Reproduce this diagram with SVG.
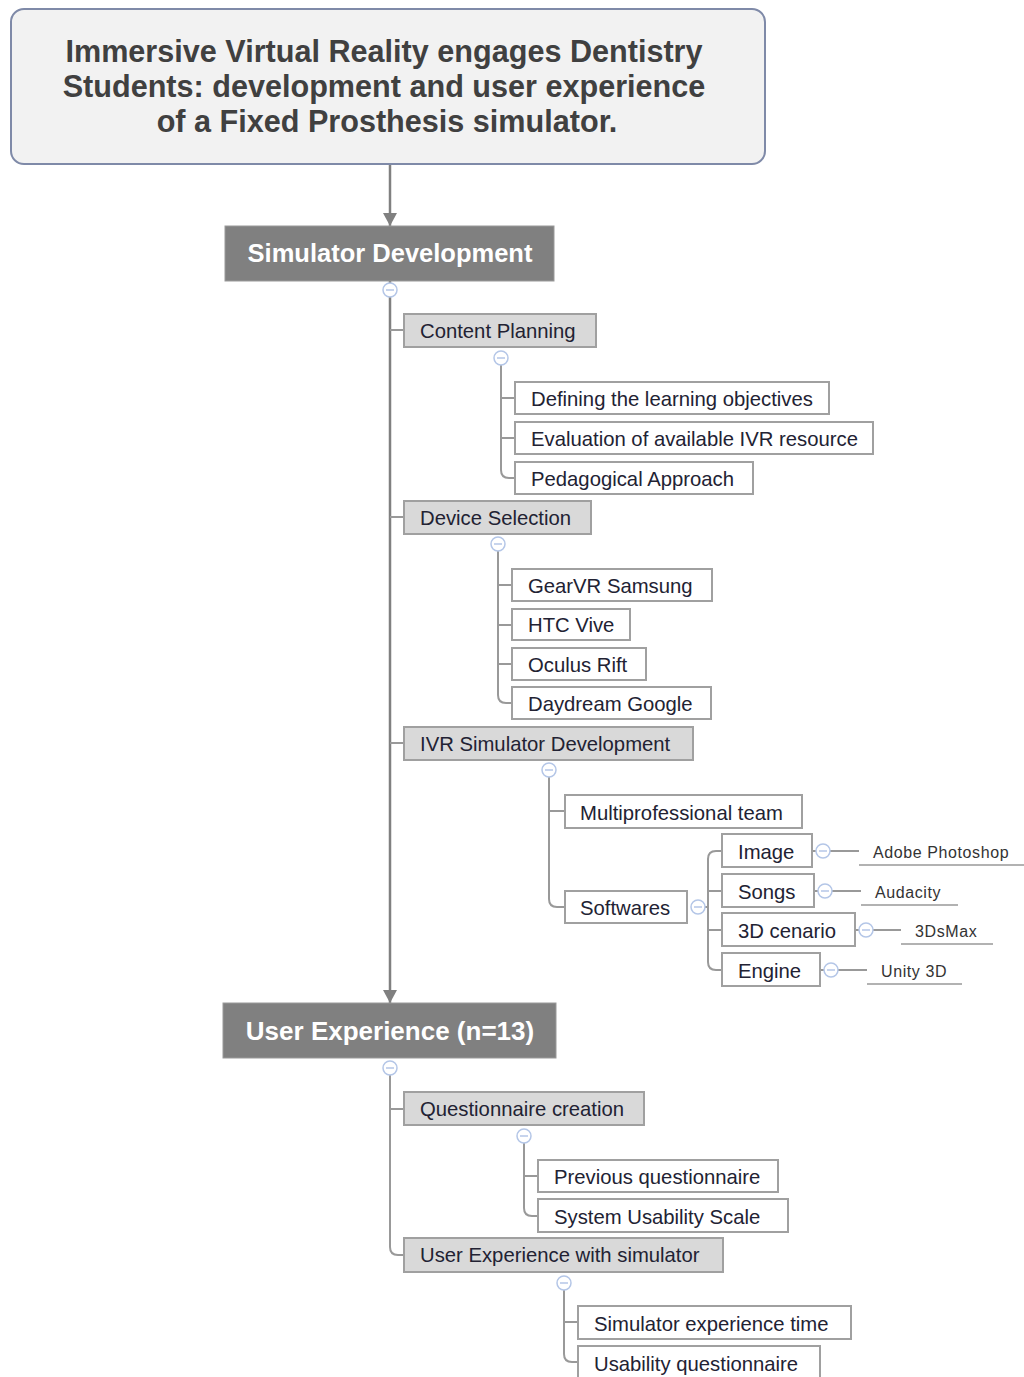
<svg xmlns="http://www.w3.org/2000/svg" width="1024" height="1377" viewBox="0 0 1024 1377">
<defs>
<style>
.title{font-family:"Liberation Sans",Arial,sans-serif;font-weight:bold;font-size:30.6px;fill:#404040;text-anchor:middle}
.main{fill:#808080;stroke:#9a9a9a;stroke-width:1}
.mainT{font-family:"Liberation Sans",Arial,sans-serif;font-weight:bold;font-size:25.5px;fill:#ffffff;text-anchor:middle}
.g2{fill:#d9d9d9;stroke:#a0a0a0;stroke-width:2}
.lf{fill:#ffffff;stroke:#a0a0a0;stroke-width:2}
.t{font-family:"Liberation Sans",Arial,sans-serif;font-size:20.3px;fill:#222233}
.s{font-family:"Liberation Sans",Arial,sans-serif;font-size:16px;fill:#333333;letter-spacing:0.6px}
.ln{fill:none;stroke:#999999;stroke-width:2}
.trunk{fill:none;stroke:#808080;stroke-width:2.5}
.ul{stroke:#999999;stroke-width:1.5}
.cc{fill:#ffffff;stroke:#b4c6e7;stroke-width:1.5}
.cm{stroke:#b4c6e7;stroke-width:1.5}
</style>
</defs>

<g id="connectors">
<line class="trunk" x1="390" y1="164" x2="390" y2="226"/>
<path d="M383,213 L397,213 L390,226 Z" fill="#808080"/>
<line class="trunk" x1="390" y1="281" x2="390" y2="1003"/>
<path d="M383,990 L397,990 L390,1003 Z" fill="#808080"/>
<line class="ln" x1="390" y1="330" x2="404" y2="330"/>
<line class="ln" x1="390" y1="517" x2="404" y2="517"/>
<line class="ln" x1="390" y1="743" x2="404" y2="743"/>
<path class="ln" d="M501,365 V470 Q501,478 509,478 H515 M501,398 H515 M501,438 H515"/>
<path class="ln" d="M498,551 V695 Q498,703 506,703 H512 M498,585 H512 M498,625 H512 M498,664 H512"/>
<path class="ln" d="M549,777 V899 Q549,907 557,907 H565 M549,811 H565"/>
<path class="ln" d="M705,907 H708 M722,851 H716 Q708,851 708,859 V962 Q708,970 716,970 H722 M708,891 H722 M708,930 H722"/>
<line class="ln" x1="812" y1="851" x2="816" y2="851"/>
<line class="ln" x1="830" y1="851" x2="859" y2="851"/>
<line class="ln" x1="814" y1="891" x2="818" y2="891"/>
<line class="ln" x1="832" y1="891" x2="861" y2="891"/>
<line class="ln" x1="855" y1="930" x2="859" y2="930"/>
<line class="ln" x1="873" y1="930" x2="901" y2="930"/>
<line class="ln" x1="820" y1="970" x2="824" y2="970"/>
<line class="ln" x1="838" y1="970" x2="867" y2="970"/>
<path class="ln" d="M390,1075 V1247 Q390,1255 398,1255 H404 M390,1109 H404"/>
<path class="ln" d="M524,1143 V1208 Q524,1216 532,1216 H538 M524,1176 H538"/>
<path class="ln" d="M564,1290 V1354 Q564,1362 572,1362 H578 M564,1322 H578"/>
</g>

<g id="collapse-icons">
<circle class="cc" cx="390" cy="290" r="7"/><line class="cm" x1="386" y1="290" x2="394" y2="290"/>
<circle class="cc" cx="501" cy="358" r="7"/><line class="cm" x1="497" y1="358" x2="505" y2="358"/>
<circle class="cc" cx="498" cy="544" r="7"/><line class="cm" x1="494" y1="544" x2="502" y2="544"/>
<circle class="cc" cx="549" cy="770" r="7"/><line class="cm" x1="545" y1="770" x2="553" y2="770"/>
<circle class="cc" cx="698" cy="907" r="7"/><line class="cm" x1="694" y1="907" x2="702" y2="907"/>
<circle class="cc" cx="823" cy="851" r="7"/><line class="cm" x1="819" y1="851" x2="827" y2="851"/>
<circle class="cc" cx="825" cy="891" r="7"/><line class="cm" x1="821" y1="891" x2="829" y2="891"/>
<circle class="cc" cx="866" cy="930" r="7"/><line class="cm" x1="862" y1="930" x2="870" y2="930"/>
<circle class="cc" cx="831" cy="970" r="7"/><line class="cm" x1="827" y1="970" x2="835" y2="970"/>
<circle class="cc" cx="390" cy="1068" r="7"/><line class="cm" x1="386" y1="1068" x2="394" y2="1068"/>
<circle class="cc" cx="524" cy="1136" r="7"/><line class="cm" x1="520" y1="1136" x2="528" y2="1136"/>
<circle class="cc" cx="564" cy="1283" r="7"/><line class="cm" x1="560" y1="1283" x2="568" y2="1283"/>
</g>

<g id="title">
<rect x="11" y="9" width="754" height="155" rx="13" fill="#f2f2f2" stroke="#7f8aa8" stroke-width="2"/>
<text class="title" x="384" y="62">Immersive Virtual Reality engages Dentistry</text>
<text class="title" x="384" y="97">Students: development and user experience</text>
<text class="title" x="387" y="132">of a Fixed Prosthesis simulator.</text>
</g>

<g id="simulator-development">
<rect class="main" x="225" y="226" width="329" height="55"/>
<text class="mainT" x="390" y="262">Simulator Development</text>
</g>

<g id="content-planning"><rect class="g2" x="404" y="314" width="192" height="33"/><text class="t" x="420" y="338">Content Planning</text></g>
<g id="defining"><rect class="lf" x="515" y="382" width="314" height="32"/><text class="t" x="531" y="406">Defining the learning objectives</text></g>
<g id="evaluation"><rect class="lf" x="515" y="422" width="358" height="32"/><text class="t" x="531" y="446">Evaluation of available IVR resource</text></g>
<g id="pedagogical"><rect class="lf" x="515" y="462" width="238" height="32"/><text class="t" x="531" y="486">Pedagogical Approach</text></g>

<g id="device-selection"><rect class="g2" x="404" y="501" width="187" height="33"/><text class="t" x="420" y="525">Device Selection</text></g>
<g id="gearvr"><rect class="lf" x="512" y="569" width="200" height="32"/><text class="t" x="528" y="593">GearVR Samsung</text></g>
<g id="htc"><rect class="lf" x="512" y="609" width="118" height="31"/><text class="t" x="528" y="632">HTC Vive</text></g>
<g id="oculus"><rect class="lf" x="512" y="648" width="134" height="32"/><text class="t" x="528" y="672">Oculus Rift</text></g>
<g id="daydream"><rect class="lf" x="512" y="687" width="199" height="32"/><text class="t" x="528" y="711">Daydream Google</text></g>

<g id="ivr-dev"><rect class="g2" x="404" y="727" width="289" height="33"/><text class="t" x="420" y="751">IVR Simulator Development</text></g>
<g id="multiprofessional"><rect class="lf" x="565" y="795" width="237" height="33"/><text class="t" x="580" y="820">Multiprofessional team</text></g>
<g id="softwares"><rect class="lf" x="565" y="891" width="122" height="32"/><text class="t" x="580" y="915">Softwares</text></g>
<g id="image"><rect class="lf" x="722" y="834" width="90" height="33"/><text class="t" x="738" y="859">Image</text></g>
<g id="songs"><rect class="lf" x="722" y="874" width="92" height="33"/><text class="t" x="738" y="899">Songs</text></g>
<g id="cenario"><rect class="lf" x="722" y="913" width="133" height="33"/><text class="t" x="738" y="938">3D cenario</text></g>
<g id="engine"><rect class="lf" x="722" y="953" width="98" height="33"/><text class="t" x="738" y="978">Engine</text></g>

<g id="photoshop"><text class="s" x="873" y="858">Adobe Photoshop</text><line class="ul" x1="859" y1="865" x2="1024" y2="865"/></g>
<g id="audacity"><text class="s" x="875" y="898">Audacity</text><line class="ul" x1="861" y1="905" x2="958" y2="905"/></g>
<g id="3dsmax"><text class="s" x="915" y="937">3DsMax</text><line class="ul" x1="901" y1="944" x2="993" y2="944"/></g>
<g id="unity"><text class="s" x="881" y="977">Unity 3D</text><line class="ul" x1="867" y1="984" x2="962" y2="984"/></g>

<g id="user-experience">
<rect class="main" x="223" y="1003" width="333" height="55"/>
<text class="mainT" x="390" y="1040" style="font-size:26px">User Experience (n=13)</text>
</g>

<g id="questionnaire-creation"><rect class="g2" x="404" y="1092" width="240" height="33"/><text class="t" x="420" y="1116">Questionnaire creation</text></g>
<g id="previous"><rect class="lf" x="538" y="1160" width="240" height="32"/><text class="t" x="554" y="1184">Previous questionnaire</text></g>
<g id="sus"><rect class="lf" x="538" y="1199" width="250" height="33"/><text class="t" x="554" y="1224">System Usability Scale</text></g>

<g id="ux-simulator"><rect class="g2" x="404" y="1238" width="319" height="34"/><text class="t" x="420" y="1262">User Experience with simulator</text></g>
<g id="sim-time"><rect class="lf" x="578" y="1306" width="273" height="33"/><text class="t" x="594" y="1331">Simulator experience time</text></g>
<g id="usability-q"><rect class="lf" x="578" y="1346" width="242" height="40"/><text class="t" x="594" y="1371">Usability questionnaire</text></g>
</svg>
